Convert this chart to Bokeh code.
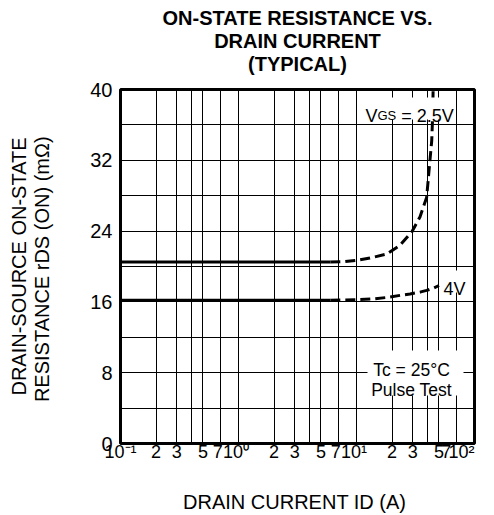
import math
from bokeh.plotting import figure
from bokeh.models import Range1d, FixedTicker, Label, BoxAnnotation, Title
from bokeh.embed import file_html
from bokeh.resources import INLINE

# ---------------- data ----------------
# VGS = 2.5 V
id_25_solid = [0.1, 6.0]
rds_25_solid = [20.5, 20.5]
id_25_dash = [6.0, 8.0, 10.0, 13.0, 18.0, 23.4, 29.4, 34.5, 39.3, 41.4, 43.4, 44.2, 44.6]
rds_25_dash = [20.5, 20.55, 20.7, 20.95, 21.4, 22.4, 23.9, 25.6, 27.8, 31.2, 34.2, 37.0, 40.0]
# VGS = 4 V
id_4_solid = [0.1, 6.0]
rds_4_solid = [16.2, 16.2]
id_4_dash = [6.0, 10.0, 14.0, 18.0, 23.7, 28.4, 34.5, 39.3, 45.0, 50.0]
rds_4_dash = [16.2, 16.25, 16.35, 16.5, 16.75, 16.9, 17.1, 17.3, 17.55, 17.85]

NB = "\u00a0"
x_ticks = [0.1, 0.2, 0.3, 0.5, 0.7, 1, 2, 3, 5, 7, 10, 20, 30, 50, 70, 100]
x_tick_labels = ["10\u207b\u00b9", "2", "3", "5", "7" + NB,
                 "10\u2070" + NB, "2", "3", "5", "7" + NB,
                 "10\u00b9" + NB, "2", "3", "5", "7" + NB * 4,
                 "10\u00b2" + NB * 4]
x_grid = [0.2, 0.3, 0.4, 0.5, 0.7, 1, 2, 3, 4, 5, 7, 10, 20, 30, 40, 50, 70]
y_ticks = [0, 8, 16, 24, 32, 40]
y_grid = [4, 8, 12, 16, 20, 24, 28, 32, 36]

title_lines = ["ON-STATE RESISTANCE VS.", "DRAIN CURRENT", "(TYPICAL)"]
x_label = "DRAIN CURRENT  ID (A)"
y_label = "DRAIN-SOURCE ON-STATE\nRESISTANCE  rDS (ON) (m\u03a9)"

FONT = "Liberation Sans"

# Arial-compatible advance widths (per 1000 em)
ADV = {' ': 278, '(': 333, ')': 333, 'A': 667, 'C': 722, 'D': 722, 'E': 667,
       'G': 778, 'I': 278, 'N': 722, 'O': 778, 'R': 722, 'S': 667, 'T': 611,
       'U': 722, 'V': 667, 'r': 333, 'm': 833, '\u03a9': 768, '=': 584,
       '2': 556, '5': 556, '.': 278, '-': 333, 'c': 500}


def text_w(s, size):
    return sum(ADV.get(ch, 556) for ch in s) * size / 1000.0


p = figure(width=494, height=515, x_axis_type="log", title=None,
           x_range=Range1d(0.1, 100), y_range=Range1d(0, 40),
           output_backend="svg", toolbar_location=None,
           min_border_left=120, min_border_right=20,
           min_border_top=89, min_border_bottom=72)
p.background_fill_color = "white"
p.border_fill_color = "white"
p.outline_line_color = "black"
p.outline_line_width = 3
p.outline_line_alpha = 1

# title: a small spacer next to the frame, then three centred lines
p.add_layout(Title(text=" ", text_font=FONT, text_font_size="10px",
                   standoff=2), "above")
for txt in reversed(title_lines):
    p.add_layout(Title(text=txt, align="center", vertical_align="bottom",
                       text_font=FONT, text_font_size="20px",
                       text_font_style="bold", text_color="black",
                       standoff=-1), "above")

# axes
for ax in (p.xaxis, p.yaxis):
    ax.axis_line_color = None
    ax.major_tick_line_color = None
    ax.minor_tick_line_color = None
    ax.major_tick_out = 0
    ax.major_tick_in = 0
    ax.minor_tick_out = 0
    ax.minor_tick_in = 0
    ax.major_label_text_font = FONT
    ax.major_label_text_color = "black"
    ax.axis_label_text_font = FONT
    ax.axis_label_text_font_style = "normal"
    ax.axis_label_text_color = "black"

p.xaxis.ticker = FixedTicker(ticks=x_ticks)
p.xaxis.major_label_overrides = {t: lab for t, lab in zip(x_ticks, x_tick_labels)}
p.xaxis.major_label_standoff = -2
p.xaxis.major_label_text_font_size = "18px"
p.xaxis.axis_label = x_label
p.xaxis.axis_label_text_font_size = "20px"
p.xaxis.axis_label_standoff = 26

p.yaxis.ticker = FixedTicker(ticks=y_ticks)
p.yaxis.major_label_standoff = 8
p.yaxis.major_label_text_font_size = "20px"
p.yaxis.axis_label = y_label
p.yaxis.axis_label_text_font_size = "20px"
p.yaxis.axis_label_text_line_height = 1.05
p.yaxis.axis_label_standoff = 34

# grid
p.xgrid.ticker = FixedTicker(ticks=x_grid)
p.ygrid.ticker = FixedTicker(ticks=y_grid)
for g in (p.xgrid, p.ygrid):
    g.grid_line_color = "black"
    g.grid_line_width = 1
    g.grid_line_alpha = 1

# curves
p.line(id_25_solid, rds_25_solid, line_color="black", line_width=3)
p.line(id_25_dash, rds_25_dash, line_color="black", line_width=3, line_dash="10 5")
p.line(id_4_solid, rds_4_solid, line_color="black", line_width=3)
p.line(id_4_dash, rds_4_dash, line_color="black", line_width=3, line_dash="10 5")


# white boxes behind in-plot texts (screen units, relative to frame)
def wbox(l, r, b, t):
    p.add_layout(BoxAnnotation(left=l, right=r, bottom=b, top=t,
                               left_units="screen", right_units="screen",
                               bottom_units="screen", top_units="screen",
                               fill_color="white", fill_alpha=1,
                               line_color=None))


wbox(238, 335, 324, 346)   # VGS = 2.5V
wbox(321, 350, 151, 173)   # 4V
wbox(247, 343, 48, 93)     # Tc / Pulse Test


def lab(x, y, text, size, align="left"):
    p.add_layout(Label(x=x, y=y, x_units="screen", y_units="screen",
                       text=text, text_font=FONT,
                       text_font_size=f"{size}px",
                       text_align=align, text_baseline="alphabetic",
                       text_color="black"))


def pieces(x0, y0, parts):
    """parts: list of (text, size), laid out left to right on one baseline."""
    pos = 0.0
    for txt, size in parts:
        stripped = txt.lstrip(" ")
        pos += text_w(txt[:len(txt) - len(stripped)], size)
        lab(x0 + pos, y0, stripped, size)
        pos += text_w(stripped, size)


# in-plot annotations
pieces(245, 328, [("V", 18), ("GS", 13), (" = 2.5V", 18)])
lab(323, 155, "4V", 18)
lab(291, 74, "Tc = 25\u00b0C", 17.5, align="center")
lab(291, 53.5, "Pulse Test", 17.5, align="center")

open("out.html", "w").write(file_html(p, INLINE))
